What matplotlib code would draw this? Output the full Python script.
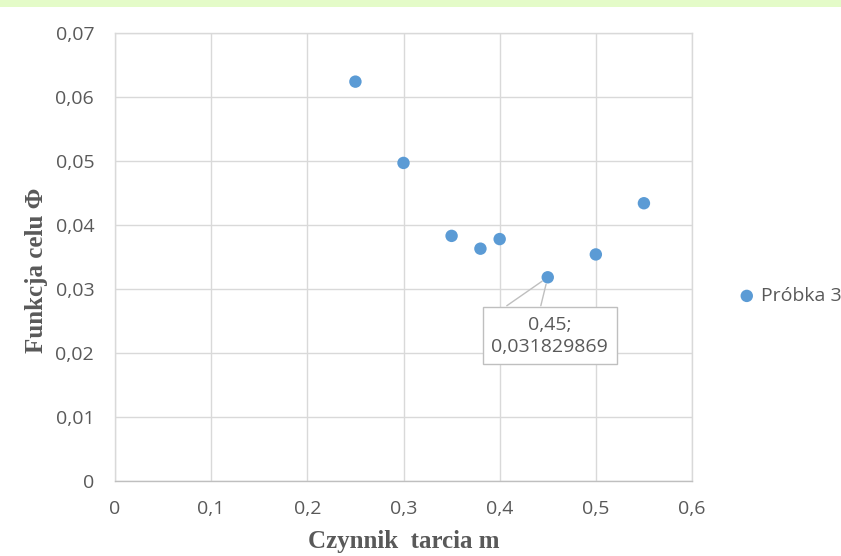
import matplotlib
matplotlib.use("Agg")
import matplotlib.pyplot as plt
from matplotlib.patches import Rectangle
from matplotlib.ticker import FuncFormatter, MultipleLocator

m_values = [0.25, 0.30, 0.35, 0.38, 0.40, 0.45, 0.50, 0.55]
phi_values = [0.0624, 0.0497, 0.0383, 0.0363, 0.0378, 0.031829869, 0.0354, 0.0434]
series_name = "Próbka 3"
x_label = "Czynnik  tarcia m"
y_label = "Funkcja celu Φ"
annot_index = 5
annot_text = "0,45;\n0,031829869"

GRAY_TXT = "#595959"
FS = 14

fig = plt.figure(figsize=(8.41, 5.56), dpi=100)
fig.patches.append(Rectangle((0, 1 - 7 / 556), 1, 7 / 556, transform=fig.transFigure,
                             facecolor="#e4fbc8", edgecolor="none", zorder=-1))
ax = fig.add_axes([115 / 841, 1 - 481 / 556, (692 - 115) / 841, (481 - 33) / 556])

ax.scatter(m_values, phi_values, s=80, color="#5b9bd5", zorder=3, label=series_name,
           edgecolors="none")

ax.set_xlim(0, 0.6)
ax.set_ylim(0, 0.07)
ax.xaxis.set_major_locator(MultipleLocator(0.1))
ax.yaxis.set_major_locator(MultipleLocator(0.01))

def fmt(v, pos):
    s = f"{v:.2f}".rstrip("0").rstrip(".")
    if s in ("0", "-0"):
        return "0"
    return s.replace(".", ",")

ax.xaxis.set_major_formatter(FuncFormatter(fmt))
ax.yaxis.set_major_formatter(FuncFormatter(fmt))

ax.grid(True, color="#d9d9d9", linewidth=1.0, zorder=0)
ax.set_axisbelow(True)
for side, sp in ax.spines.items():
    sp.set_color("#d9d9d9")
    sp.set_linewidth(1.0)
ax.spines["bottom"].set_color("#bfbfbf")
ax.tick_params(axis="y", length=0, labelsize=FS, labelcolor=GRAY_TXT, pad=15)
ax.tick_params(axis="x", length=0, labelsize=FS, labelcolor=GRAY_TXT, pad=14)
for lbl in ax.get_xticklabels() + ax.get_yticklabels():
    lbl.set_fontfamily("Open Sans")

ax.set_xlabel(x_label, fontfamily="Liberation Serif", fontweight="bold", fontsize=18,
              color=GRAY_TXT, labelpad=8)
ax.set_ylabel(y_label, fontfamily="Liberation Serif", fontweight="bold", fontsize=18,
              color=GRAY_TXT, labelpad=5)
ax.yaxis.label.set_y(0.47)

pt = (m_values[annot_index], phi_values[annot_index])
for dx in (-29.5, -5.0):
    ax.annotate("", xy=pt, xytext=(dx, -20.5), textcoords="offset points",
                arrowprops=dict(arrowstyle="-", color="#bfbfbf", linewidth=1.0,
                                shrinkA=0, shrinkB=5),
                zorder=3.5)
ax.annotate(annot_text, xy=pt, xytext=(1.4, -42.0), textcoords="offset points",
            ha="center", va="center", fontsize=FS, color=GRAY_TXT,
            fontfamily="Open Sans", linespacing=1.3,
            bbox=dict(boxstyle="square,pad=0.45", facecolor="white", edgecolor="#bfbfbf",
                      linewidth=1.0),
            zorder=5)

fig.legend(handles=ax.collections[:1], labels=[series_name], loc="center left",
           bbox_to_anchor=(739 / 841, 1 - 296 / 556), bbox_transform=fig.transFigure,
           frameon=False, prop={"family": "Open Sans", "size": FS}, labelcolor=GRAY_TXT,
           handlelength=0.8, handletextpad=0.35, borderpad=0, borderaxespad=0)

fig.savefig("out.png", dpi=100)
